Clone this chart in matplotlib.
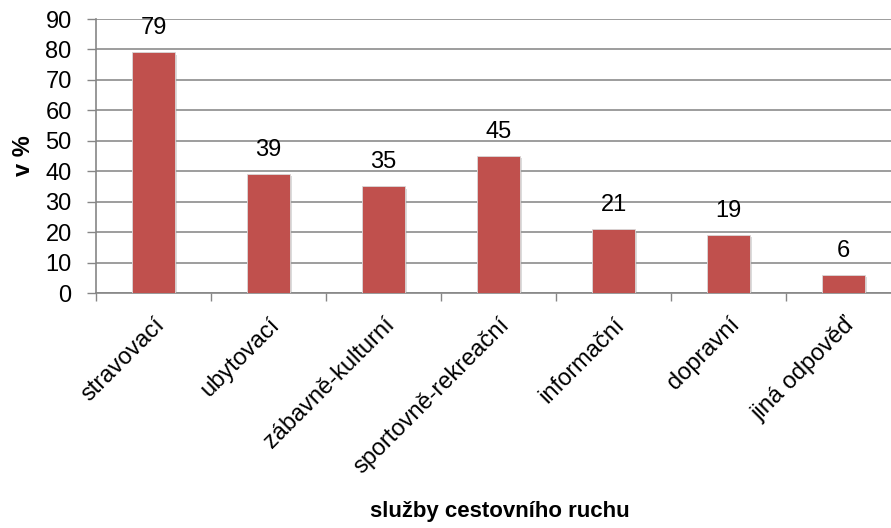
import matplotlib.pyplot as plt
import matplotlib.patheffects as pe

categories = ["stravovací", "ubytovací", "zábavně-kulturní", "sportovně-rekreační",
              "informační", "dopravní", "jiná odpověď"]
values = [79, 39, 35, 45, 21, 19, 6]
labels = ["79", "39", "35", "45", "21", "19", "6"]

plt.rcParams['font.family'] = ['Liberation Sans', 'DejaVu Sans']
FS = 17

fig = plt.figure(figsize=(8.91, 5.28), dpi=100)
# plot area runs past the right edge of the picture, as in the original
ax = fig.add_axes([96 / 891, (528 - 293) / 528, 805 / 891, 274 / 528])

x = range(len(categories))
bars = ax.bar(x, values, width=0.38, color="#C0504D", edgecolor="#D9D9D9",
              linewidth=0.6, zorder=3)
for b in bars:
    b.set_path_effects([pe.SimplePatchShadow(offset=(1.5, -1.5), shadow_rgbFace="#9a9a9a", alpha=0.35),
                        pe.Normal()])

for xi, v, t in zip(x, values, labels):
    ax.annotate(t, (xi, v), xytext=(0, 13), textcoords="offset points",
                ha="center", va="baseline", fontsize=FS)

ax.set_xlim(-0.5, len(categories) - 0.5)
ax.set_ylim(0, 90)
ax.set_yticks(range(0, 91, 10))
ax.tick_params(axis="y", labelsize=FS, length=6.5, color="#868686", width=1, pad=11)
ax.yaxis.grid(True, color="#8c8c8c", linewidth=1.2, zorder=0)
ax.set_axisbelow(True)

ax.set_xticks([i + 0.5 for i in range(-1, len(categories))], minor=False)
ax.set_xticklabels([])
ax.set_xticks(list(x), minor=True)
ax.set_xticklabels(categories, minor=True, rotation=45, ha="right", va="top",
                   rotation_mode="anchor", fontsize=FS)
ax.tick_params(axis="x", which="major", length=6, color="#868686", width=1)
ax.tick_params(axis="x", which="minor", length=0, pad=15)

for s in ["top", "right"]:
    ax.spines[s].set_visible(False)
for s in ["left", "bottom"]:
    ax.spines[s].set_color("#868686")
    ax.spines[s].set_linewidth(1.2)

fig.text(24 / 891, 1 - 156 / 528, "v %", rotation=90, ha="center", va="center",
         fontsize=FS, fontweight="bold")
fig.text(500 / 891, 1 - 512 / 528, "služby cestovního ruchu", ha="center", va="center",
         fontsize=16, fontweight="bold")

fig.savefig("out.png", dpi=100)
